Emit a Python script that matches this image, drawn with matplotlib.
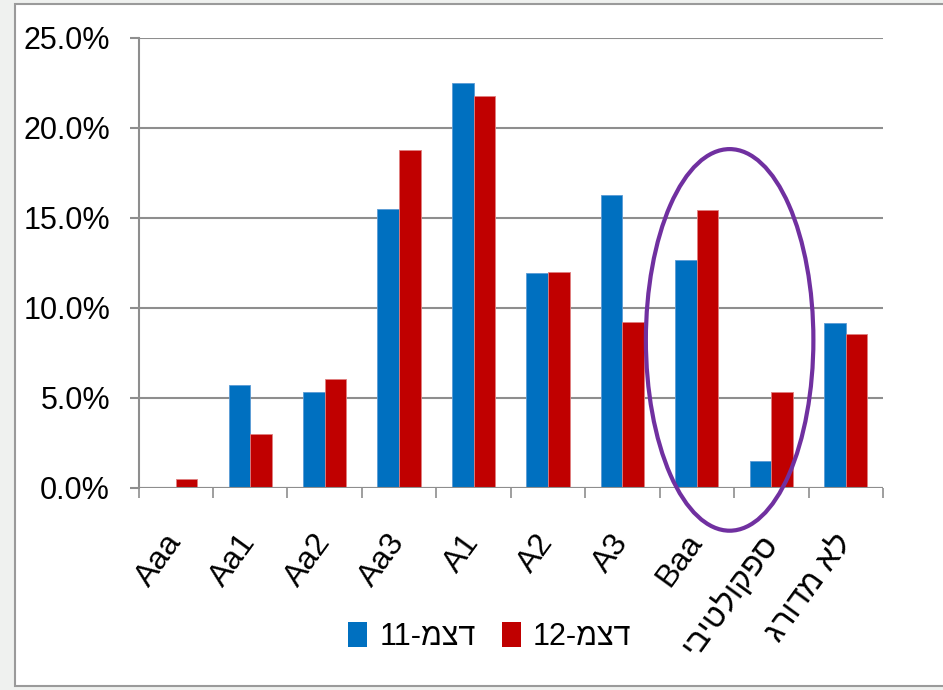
import matplotlib
matplotlib.use("Agg")
import matplotlib.pyplot as plt
from matplotlib.patches import Rectangle, Ellipse, Patch
import numpy as np

plt.rcParams['font.family'] = ['Liberation Sans', 'DejaVu Sans']

# Rating categories (Hebrew strings are stored in visual, left-to-right glyph order)
categories = ["Aaa", "Aa1", "Aa2", "Aa3", "A1", "A2", "A3", "Baa",
              "יביטלוקפס", "גרודמ אל"]
# Share of portfolio by rating, percent
dec11 = [0.0, 5.7, 5.3, 15.5, 22.5, 11.9, 16.25, 12.65, 1.45, 9.15]
dec12 = [0.45, 2.95, 6.05, 18.75, 21.75, 12.0, 9.2, 15.4, 5.3, 8.55]
series_labels = ["11-מצד", "12-מצד"]
yticks = [0, 5, 10, 15, 20, 25]

blue = "#0070C0"
red = "#C00000"
grid_gray = "#8e8e8e"

fig = plt.figure(figsize=(9.43, 6.9), dpi=100)
fig.patch.set_facecolor("#eff1ef")

# White panel with a thin grey frame
fig.patches.append(Rectangle((15 / 943, 4 / 690), 1.2, 682 / 690,
                             transform=fig.transFigure, facecolor="white",
                             edgecolor="#9a9a9a", linewidth=1.5, zorder=-5))

ax = fig.add_axes([138.5 / 943, 202.5 / 690, (883 - 138.5) / 943, 450 / 690])
ax.set_zorder(2)
ax.set_facecolor("none")

x = np.arange(len(categories))
w = 0.29
ax.bar(x - w / 2, dec11, width=w, color=blue, edgecolor="#5b9bd5",
       linewidth=0.6, zorder=3, label=series_labels[0])
ax.bar(x + w / 2, dec12, width=w, color=red, edgecolor="#e08080",
       linewidth=0.6, zorder=3, label=series_labels[1])

ax.set_xlim(-0.5, len(categories) - 0.5)
ax.set_ylim(0, 25)
ax.set_yticks(yticks)
ax.set_yticklabels([f"{v:.1f}%" for v in yticks])
ax.yaxis.grid(True, color=grid_gray, linewidth=1.5, zorder=0)
ax.set_axisbelow(True)

for side in ("top", "right", "bottom"):
    ax.spines[side].set_visible(False)
ax.spines["left"].set_color(grid_gray)
ax.spines["left"].set_linewidth(1.5)
ax.axhline(0, color=grid_gray, linewidth=1.5, zorder=4)

ax.tick_params(axis="y", length=6.5, width=1.5, color=grid_gray, pad=14,
               labelsize=22)
# Category boundary ticks below the axis
ax.set_xticks(np.arange(-0.5, len(categories), 1.0), minor=True)
ax.tick_params(axis="x", which="minor", length=7.5, width=1.2,
               color=grid_gray, direction="out")
ax.set_xticks(x)
ax.tick_params(axis="x", which="major", length=0, pad=36)
ax.set_xticklabels(categories, rotation=54, ha="right", va="center",
                   rotation_mode="anchor", fontsize=23)
for lbl in ax.get_xticklabels():
    lbl.set_x(lbl.get_position()[0])

# Highlight around Baa and speculative grade
ax.add_patch(Ellipse((7.44, 8.2), 2.25, 21.2, fill=False,
                     edgecolor="#7030A0", linewidth=3, zorder=6,
                     clip_on=False))

handles = [Patch(facecolor=blue), Patch(facecolor=red)]
fig.legend(handles, series_labels, loc="center", ncol=2,
           bbox_to_anchor=(490 / 943, 1 - 637 / 690), frameon=False,
           fontsize=22, handlelength=0.62, handleheight=0.85,
           handletextpad=0.4, columnspacing=0.85)

fig.savefig("out.png", dpi=100, facecolor=fig.get_facecolor())
